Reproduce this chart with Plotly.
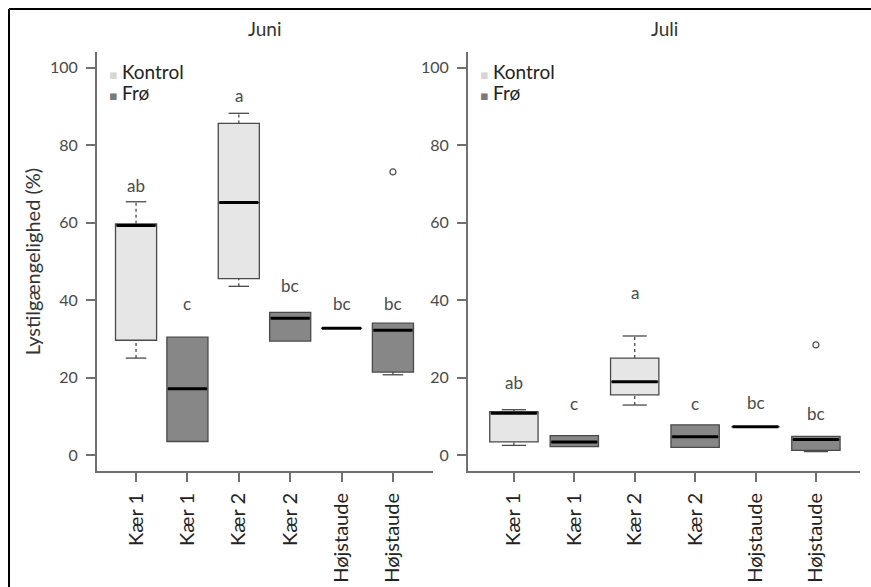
import plotly.graph_objects as go

# ---------------- data ----------------
categories = ["Kær 1", "Kær 1", "Kær 2", "Kær 2", "Højstaude", "Højstaude"]
treatment = ["Kontrol", "Frø", "Kontrol", "Frø", "Kontrol", "Frø"]
positions = [1, 2, 3, 4, 5, 6]
legend_labels = ["Kontrol", "Frø"]

# Juni
juni_low = [25.1, 3.6, 43.6, 29.5, 32.8, 20.8]
juni_q1 = [29.7, 3.6, 45.6, 29.5, 32.8, 21.5]
juni_med = [59.3, 17.2, 65.2, 35.4, 32.8, 32.3]
juni_q3 = [59.7, 30.5, 85.6, 36.9, 32.8, 34.1]
juni_high = [65.4, 30.5, 88.2, 36.9, 32.8, 34.1]
juni_outlier_pos = [6]
juni_outlier_val = [73.1]
juni_letters = ["ab", "c", "a", "bc", "bc", "bc"]
juni_letter_y = [69.7, 39.2, 92.8, 43.8, 39.2, 39.2]

# Juli
juli_low = [2.6, 2.3, 13.0, 2.1, 7.4, 1.0]
juli_q1 = [3.5, 2.3, 15.6, 2.1, 7.4, 1.3]
juli_med = [10.9, 3.5, 19.0, 4.8, 7.4, 4.1]
juli_q3 = [11.3, 5.1, 25.1, 7.9, 7.4, 4.9]
juli_high = [11.8, 5.1, 30.8, 7.9, 7.4, 4.9]
juli_outlier_pos = [6]
juli_outlier_val = [28.5]
juli_letters = ["ab", "c", "a", "c", "bc", "bc"]
juli_letter_y = [18.7, 13.3, 42.0, 13.3, 13.6, 10.8]

y_ticks = [0, 20, 40, 60, 80, 100]

# ---------------- style ----------------
FONT = "Lato"
TXT = "#333333"
NUM = "#4a4a4a"
AX = "#707070"
FILL = {"Kontrol": "#e6e6e6", "Frø": "#878787"}
KEY = {"Kontrol": "#d6d6d6", "Frø": "#7a7a7a"}
OUTLINE = "#4a4a4a"
BOXW = 0.8

fig = go.Figure()


def add_panel(xref, yref, low, q1, med, q3, high, out_pos, out_val):
    for i, p in enumerate(positions):
        t = treatment[i]
        fig.add_trace(go.Box(
            x=[p], q1=[q1[i]], median=[med[i]], q3=[q3[i]],
            lowerfence=[q1[i]], upperfence=[q3[i]],
            width=BOXW, fillcolor=FILL[t], name=t,
            line=dict(color=OUTLINE, width=1.3),
            whiskerwidth=0, boxpoints=False, showlegend=False,
            xaxis=xref, yaxis=yref, hoverinfo="skip",
        ))
        # dotted whiskers with solid caps
        if high[i] > q3[i]:
            fig.add_trace(go.Scatter(x=[p, p], y=[q3[i], high[i]], mode="lines",
                                     line=dict(color=OUTLINE, width=1.3, dash="dot"),
                                     showlegend=False, xaxis=xref, yaxis=yref, hoverinfo="skip"))
            fig.add_trace(go.Scatter(x=[p - BOXW / 4, p + BOXW / 4], y=[high[i], high[i]], mode="lines",
                                     line=dict(color=OUTLINE, width=1.3),
                                     showlegend=False, xaxis=xref, yaxis=yref, hoverinfo="skip"))
        if low[i] < q1[i]:
            fig.add_trace(go.Scatter(x=[p, p], y=[low[i], q1[i]], mode="lines",
                                     line=dict(color=OUTLINE, width=1.3, dash="dot"),
                                     showlegend=False, xaxis=xref, yaxis=yref, hoverinfo="skip"))
            fig.add_trace(go.Scatter(x=[p - BOXW / 4, p + BOXW / 4], y=[low[i], low[i]], mode="lines",
                                     line=dict(color=OUTLINE, width=1.3),
                                     showlegend=False, xaxis=xref, yaxis=yref, hoverinfo="skip"))
        # thick black median
        fig.add_trace(go.Scatter(x=[p - BOXW / 2 + 0.02, p + BOXW / 2 - 0.02], y=[med[i], med[i]],
                                 mode="lines", line=dict(color="black", width=3),
                                 showlegend=False, xaxis=xref, yaxis=yref, hoverinfo="skip"))
    fig.add_trace(go.Scatter(x=out_pos, y=out_val, mode="markers",
                             marker=dict(symbol="circle-open", size=6, color=OUTLINE, line=dict(width=1.2)),
                             showlegend=False, xaxis=xref, yaxis=yref, hoverinfo="skip"))


add_panel("x", "y", juni_low, juni_q1, juni_med, juni_q3, juni_high,
          juni_outlier_pos, juni_outlier_val)
add_panel("x2", "y2", juli_low, juli_q1, juli_med, juli_q3, juli_high,
          juli_outlier_pos, juli_outlier_val)

W, H = 871, 587

annotations = []
for i, p in enumerate(positions):
    annotations.append(dict(x=p, y=juni_letter_y[i], xref="x", yref="y", text=juni_letters[i],
                            showarrow=False, font=dict(family=FONT, size=17, color=NUM)))
    annotations.append(dict(x=p, y=juli_letter_y[i], xref="x2", yref="y2", text=juli_letters[i],
                            showarrow=False, font=dict(family=FONT, size=17, color=NUM)))
annotations.append(dict(x=0.5, y=1.0, xref="x domain", yref="paper", yanchor="middle", yshift=-28,
                        text="Juni", showarrow=False, font=dict(family=FONT, size=19, color=TXT)))
annotations.append(dict(x=0.5, y=1.0, xref="x2 domain", yref="paper", yanchor="middle", yshift=-28,
                        text="Juli", showarrow=False, font=dict(family=FONT, size=19, color=TXT)))

# legend keys (one per panel)
for lx in [107, 478]:
    for k, lab in enumerate(legend_labels):
        annotations.append(dict(
            x=lx / W, y=(H - 72 - 20 * k) / H, xref="paper", yref="paper",
            xanchor="left", yanchor="middle", showarrow=False,
            text=f"<span style='color:{KEY[lab]};font-family:DejaVu Sans;font-size:13px'>▪ </span>{lab}",
            font=dict(family=FONT, size=19, color="#222222")))

ydom = [(H - 471) / H, (H - 52) / H]

xcommon = dict(tickmode="array", tickvals=positions, ticktext=categories, tickangle=-90,
               showline=True, linecolor=AX, linewidth=2, ticks="outside", ticklen=9,
               tickcolor=AX, tickwidth=2, showgrid=False, zeroline=False, ticklabelstandoff=3,
               tickfont=dict(family=FONT, size=20, color="#222222"), fixedrange=True)
ycommon = dict(tickmode="array", tickvals=y_ticks, range=[-4, 104],
               showline=True, linecolor=AX, linewidth=2, ticks="outside", ticklen=9,
               tickcolor=AX, tickwidth=2, showgrid=False, zeroline=False, ticklabelstandoff=5,
               tickfont=dict(family=FONT, size=16, color=NUM), fixedrange=True)

fig.update_layout(
    width=W, height=H, margin=dict(l=0, r=0, t=0, b=0),
    paper_bgcolor="white", plot_bgcolor="white", showlegend=False,
    xaxis=dict(domain=[97 / W, 433 / W], range=[0.24, 6.78], anchor="y", **xcommon),
    yaxis=dict(domain=ydom, anchor="x",
               title=dict(text="Lystilgængelighed (%)", standoff=4,
                          font=dict(family=FONT, size=20, color=TXT)), **ycommon),
    xaxis2=dict(domain=[468 / W, 860 / W], range=[0.24, 6.73], anchor="y2", **xcommon),
    yaxis2=dict(domain=ydom, anchor="x2", **ycommon),
    annotations=annotations,
    shapes=[
        dict(type="line", xref="paper", yref="paper", x0=9 / W, x1=1, y0=(H - 9) / H, y1=(H - 9) / H,
             line=dict(color="black", width=2)),
        dict(type="line", xref="paper", yref="paper", x0=9 / W, x1=9 / W, y0=0, y1=(H - 9) / H,
             line=dict(color="black", width=2)),
    ],
    font=dict(family=FONT, color=TXT),
)

fig.write_html("out.html")
